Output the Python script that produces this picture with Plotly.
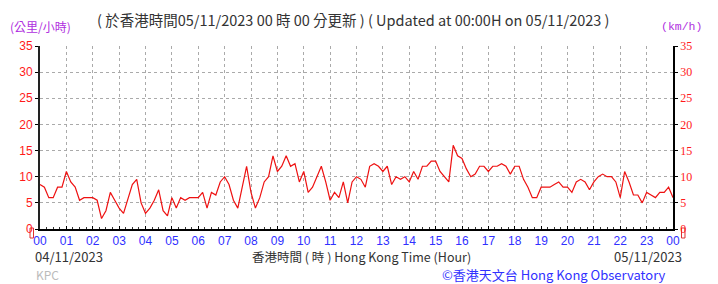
import plotly.graph_objects as go

# 10-minute mean wind speed (km/h), 04/11/2023 00:00 -> 05/11/2023 00:00
minutes = list(range(0, 1441, 10))
speed = [
    8.5, 8, 6, 6, 8, 8,            # 00
    11, 9, 8, 5.5, 6, 6,           # 01
    6, 5.5, 2, 3.5, 7, 5.5,        # 02
    4, 3, 6, 8.5, 9.5, 5,          # 03
    3, 4, 5.5, 7.5, 3.5, 2.5,      # 04
    6, 4, 6, 5.5, 6, 6,            # 05
    6, 7, 4, 7, 6.5, 9,            # 06
    10, 8.5, 5.5, 4, 8, 12,        # 07
    7, 4, 6, 9, 10, 14,            # 08
    11, 12, 14, 12, 12.5, 9,       # 09
    11, 7, 8, 10, 12, 9,           # 10
    5.5, 7, 6, 9, 5, 9,            # 11
    10, 9.5, 8, 12, 12.5, 12,      # 12
    11, 12, 8.5, 10, 9.5, 10,      # 13
    9, 11, 9.5, 12, 12, 13,        # 14
    13, 11, 10, 9, 16, 14,         # 15
    13.5, 11.5, 10, 10.5, 12, 12,  # 16
    11, 12, 12, 12.5, 12, 10.5,    # 17
    12, 12, 9.5, 8, 6, 6,          # 18
    8, 8, 8, 8.5, 9, 8,            # 19
    8, 7, 9, 9.5, 9, 7.5,          # 20
    9, 10, 10.5, 10, 10, 9,        # 21
    6, 11, 9, 6.5, 6.5, 5,         # 22
    7, 6.5, 6, 7, 7, 8,            # 23
    6,
]
hours = [m / 60 for m in minutes]
y_ticks = [0, 5, 10, 15, 20, 25, 30, 35]
x_ticks = list(range(25))
x_labels = ["%02d" % (h % 24) for h in x_ticks]

W, H = 718, 284
L, R, T, B = 39.5, 673.0, 46.0, 229.0


def px(x):
    return (x - L) / (R - L)


def py(y):
    return (B - y) / (B - T)


CJK = "Noto Sans CJK TC, sans-serif"
RED = "#ff1a1a"
BLUE = "#3030ff"
PURPLE = "#b030e0"
GREY = "#333333"

fig = go.Figure()
fig.add_trace(go.Scatter(x=hours, y=speed, mode="lines",
                         line=dict(color="#ee1111", width=1.2),
                         showlegend=False, hoverinfo="skip"))
fig.add_trace(go.Scatter(x=hours, y=speed, mode="lines", yaxis="y2",
                         line=dict(color="rgba(0,0,0,0)", width=0),
                         showlegend=False, hoverinfo="skip"))

grid = dict(showgrid=True, gridcolor="#aaaaaa", griddash="dot", gridwidth=1)

fig.update_layout(
    width=W, height=H,
    margin=dict(l=L, r=W - R, t=T, b=H - B),
    paper_bgcolor="white", plot_bgcolor="white",
    xaxis=dict(range=[0, 24], tickvals=x_ticks, ticktext=x_labels,
               tickfont=dict(family="Liberation Sans, sans-serif", size=12, color=BLUE),
               ticks="inside", ticklen=3, tickcolor="black",
               minor=dict(dtick=0.25, ticks="inside", ticklen=2, tickcolor="#333", showgrid=False),
               showline=True, linecolor="black", linewidth=1.5, mirror=False,
               zeroline=False, fixedrange=True, **grid),
    yaxis=dict(range=[0, 35], tickvals=y_ticks,
               tickfont=dict(family="Liberation Sans, sans-serif", size=12, color=RED),
               ticks="outside", ticklen=3, tickcolor="black",
               showline=True, linecolor="#222", linewidth=2,
               zeroline=False, fixedrange=True, **grid),
    yaxis2=dict(range=[0, 35], tickvals=y_ticks, overlaying="y", side="right",
                tickfont=dict(family="Liberation Serif, serif", size=12, color=RED),
                ticks="outside", ticklen=3, tickcolor="black",
                showline=True, linecolor="black", linewidth=1.5,
                showgrid=False, zeroline=False, fixedrange=True),
)

ann = [
    dict(text="(公里/小時)", x=px(7), y=py(26), xanchor="left", yanchor="middle",
         font=dict(family=CJK, size=12, color=PURPLE)),
    dict(text="( 於香港時間05/11/2023 00 時 00 分更新 ) ( Updated at 00:00H on 05/11/2023 )",
         x=px(353), y=py(19), xanchor="center", yanchor="middle",
         font=dict(family=CJK, size=14.5, color=GREY)),
    dict(text="(km/h)", x=px(704), y=py(26), xanchor="right", yanchor="middle",
         font=dict(family="Liberation Mono, monospace", size=11.5, color=PURPLE)),
    dict(text="04/11/2023", x=px(32), y=py(256), xanchor="left", yanchor="middle",
         font=dict(family=CJK, size=13, color=GREY)),
    dict(text="香港時間 ( 時 ) Hong Kong Time (Hour)", x=px(361), y=py(256),
         xanchor="center", yanchor="middle",
         font=dict(family=CJK, size=12.5, color=GREY)),
    dict(text="05/11/2023", x=px(684), y=py(256), xanchor="right", yanchor="middle",
         font=dict(family=CJK, size=13, color=GREY)),
    dict(text="KPC", x=px(33), y=py(274), xanchor="left", yanchor="middle",
         font=dict(family=CJK, size=12, color="#bbbbbb")),
    dict(text="©香港天文台 Hong Kong Observatory", x=px(668), y=py(274),
         xanchor="right", yanchor="middle",
         font=dict(family=CJK, size=13, color=BLUE)),
]
for a in ann:
    a.update(xref="paper", yref="paper", showarrow=False)
fig.update_layout(annotations=ann)

# small red end markers at the ends of the time axis
for x0 in (29.5, 681.5):
    fig.add_shape(type="rect", xref="paper", yref="paper", layer="below",
                  x0=px(x0), x1=px(x0 + 3.5), y0=py(238), y1=py(228),
                  line=dict(color="#e03030", width=1), fillcolor="rgba(0,0,0,0)")

fig.write_html("out.html")
